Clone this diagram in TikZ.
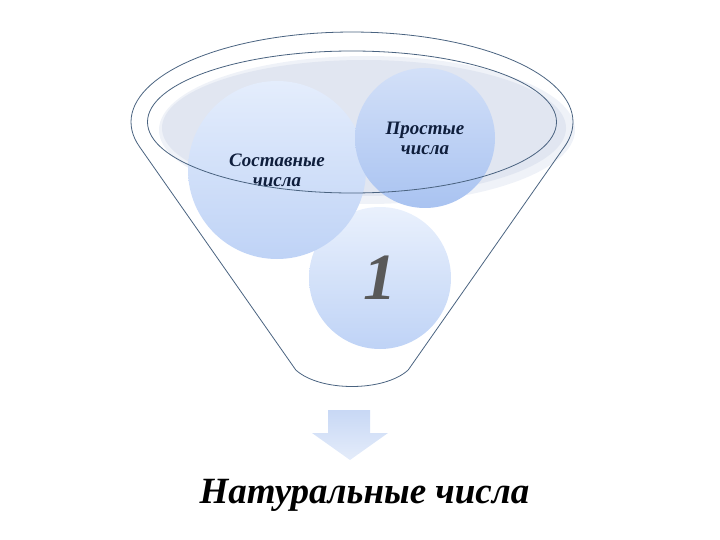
\documentclass[tikz,border=0pt]{standalone}
\usepackage{fontspec}
\setmainfont{Liberation Serif}
\usepackage{tikz}
\usetikzlibrary{positioning}
\definecolor{rimline}{HTML}{4A6380}
\definecolor{bowlfill}{HTML}{E1E6F1}
\definecolor{bowlglow}{HTML}{EFF2F8}
\definecolor{navytext}{HTML}{0F1E3C}
\definecolor{onegray}{HTML}{595959}
\definecolor{balltop}{HTML}{E4EDFC}
\definecolor{ballbot}{HTML}{BFD3F6}
\definecolor{primetop}{HTML}{D3E0F8}
\definecolor{primebot}{HTML}{A9C3F1}
\definecolor{arrowtop}{HTML}{C8D8F5}
\definecolor{arrowbot}{HTML}{E4ECFA}

\begin{document}
\begin{tikzpicture}[x=1pt, y=-1pt,
	bubble/.style={circle, inner sep=0pt, align=center, text=navytext,
	               font=\bfseries\itshape\fontsize{19}{20}\selectfont},
	rim/.style={draw=rimline, line width=0.8pt}]
	\useasboundingbox (0,0) rectangle (720,540);

	% bowl of the funnel
	\fill[bowlglow] (367,130) ellipse [x radius=208, y radius=74];
	\fill[bowlfill] (364,128) ellipse [x radius=202, y radius=68];

	% the three balls
	\node[bubble, minimum size=142pt, top color=balltop!80!white, bottom color=ballbot] (one) at (380,278)
		{\fontsize{66}{66}\selectfont\color{onegray}1};
	\node[bubble, minimum size=178pt, top color=balltop, bottom color=ballbot] (comp) at (277,170)
		{Составные\\числа};
	\node[bubble, minimum size=140pt, top color=primetop, bottom color=primebot] (prime) at (425,138)
		{Простые\\числа};

	% funnel outline
	\coordinate (lowright) at (408.2,370);
	\coordinate (lowleft) at (295.8,370);
	\draw[rim] (352,122) ellipse [x radius=204.5, y radius=71];
	\draw[rim] (lowright) -- (564.6,146.6)
		-- plot[domain=-15.9:195.9, samples=80] ({352+221*cos(\x)}, {122-90*sin(\x)})
		-- (lowleft) .. controls (320,392) and (384,392) .. (lowright);

	% arrow and result
	\path[top color=arrowtop, bottom color=arrowbot]
		(328,410) -- (370,410) -- (370,433) -- (388,433) -- (350,460)
		-- (312,433) -- (328,433) -- cycle;
	\node[anchor=base, inner sep=0pt, font=\bfseries\itshape\fontsize{37}{40}\selectfont] (nat) at (364.5,503)
		{Натуральные числа};
\end{tikzpicture}
\end{document}
